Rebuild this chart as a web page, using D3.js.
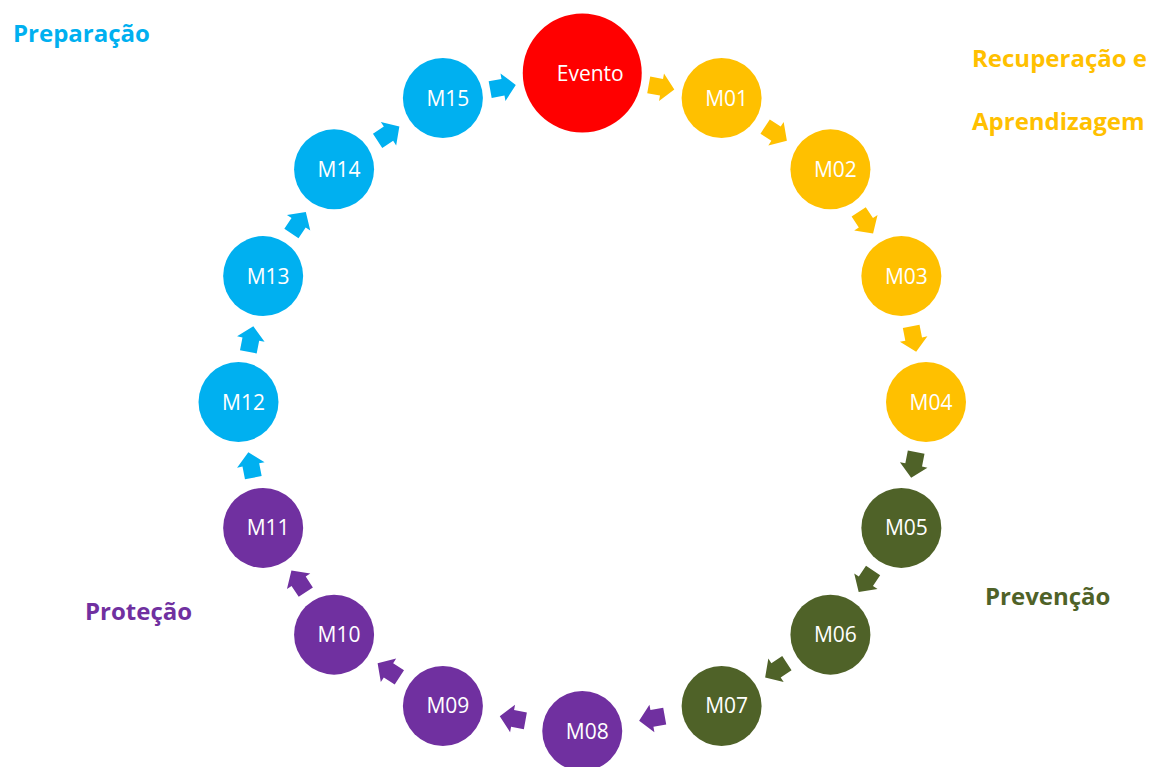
<!DOCTYPE html>
<html>
<head>
<meta charset="utf-8">
<script src="https://cdn.jsdelivr.net/npm/d3@7"></script>
<style>
  body { margin: 0; background: #fff; }
  svg { display: block; }
  text { font-family: "Open Sans", sans-serif; }
</style>
</head>
<body>
<svg width="1151" height="767"></svg>
<script>
// cycle steps, clockwise from the top
const nodeLabels = ["Evento", "M01", "M02", "M03", "M04", "M05", "M06", "M07",
                    "M08", "M09", "M10", "M11", "M12", "M13", "M14", "M15"];
const nodeGroups = ["evento", "rec", "rec", "rec", "rec", "prev", "prev", "prev",
                    "prot", "prot", "prot", "prot", "prep", "prep", "prep", "prep"];

// phases
const groupKeys   = ["evento", "rec", "prev", "prot", "prep"];
const groupColors = ["#FF0000", "#FFC000", "#4F6228", "#7030A0", "#00B0F0"];
const groupTitles = [[], ["Recuperação e", "Aprendizagem"], ["Prevenção"], ["Proteção"], ["Preparação"]];

// layout
const layout = {
  left: 238.5, right: 926, top: 73, bottom: 731,
  bigR: 59.5, smallR: 40,
  titles: {
    rec:  { x: 972, y: 67, lineGap: 63 },
    prev: { x: 985, y: 605 },
    prot: { x: 85,  y: 620 },
    prep: { x: 13,  y: 42 }
  }
};

const svg = d3.select("svg");
const color = d3.scaleOrdinal().domain(groupKeys).range(groupColors);
const angle = d3.scaleLinear().domain([0, nodeLabels.length]).range([0, 2 * Math.PI]);
const x = d3.scaleLinear().domain([-1, 1]).range([layout.left, layout.right]);
const y = d3.scaleLinear().domain([-1, 1]).range([layout.top, layout.bottom]);

const nodes = nodeLabels.map((label, i) => {
  const a = angle(i);
  const s = Math.sin(a);
  return {
    label: label,
    group: nodeGroups[i],
    x: x(Math.sign(s) * Math.pow(Math.abs(s), 0.94)),
    y: y(-Math.cos(a)),
    r: i === 0 ? layout.bigR : layout.smallR
  };
});

// arrows sit in the gap between two neighbouring circles
const links = nodes.map((n, i) => {
  const t = nodes[(i + 1) % nodes.length];
  const dx = t.x - n.x, dy = t.y - n.y;
  const len = Math.sqrt(dx * dx + dy * dy);
  const ux = dx / len, uy = dy / len;
  const gapMid = (n.r + len - t.r) / 2;
  return {
    x: n.x + ux * gapMid,
    y: n.y + uy * gapMid,
    rot: Math.atan2(dy, dx) * 180 / Math.PI,
    group: t.group === "evento" ? n.group : t.group
  };
});

const arrowShape = [[-13, -8.5], [0, -8.5], [0, -14], [13, 0], [0, 14], [0, 8.5], [-13, 8.5]];

svg.selectAll(".arrow")
  .data(links)
  .enter()
  .append("polygon")
  .attr("class", "arrow")
  .attr("points", arrowShape.map(p => p.join(",")).join(" "))
  .attr("transform", d => `translate(${d.x},${d.y}) rotate(${d.rot})`)
  .style("fill", d => color(d.group));

svg.selectAll(".node")
  .data(nodes)
  .enter()
  .append("circle")
  .attr("class", "node")
  .attr("cx", d => d.x)
  .attr("cy", d => d.y)
  .attr("r", d => d.r)
  .style("fill", d => color(d.group));

svg.selectAll(".label")
  .data(nodes)
  .enter()
  .append("text")
  .attr("class", "label")
  .attr("x", (d, i) => d.x + (i === 0 ? 8 : 5))
  .attr("y", d => d.y + 7.5)
  .attr("text-anchor", "middle")
  .style("fill", "#fff")
  .style("font-size", "21px")
  .text(d => d.label);

// phase titles
groupKeys.forEach((key, gi) => {
  const pos = layout.titles[key];
  if (!pos) return;
  groupTitles[gi].forEach((line, li) => {
    svg.append("text")
      .attr("x", pos.x)
      .attr("y", pos.y + li * (pos.lineGap || 0))
      .style("fill", groupColors[gi])
      .style("font-size", "24px")
      .style("font-weight", "bold")
      .text(line);
  });
});
</script>
</body>
</html>
